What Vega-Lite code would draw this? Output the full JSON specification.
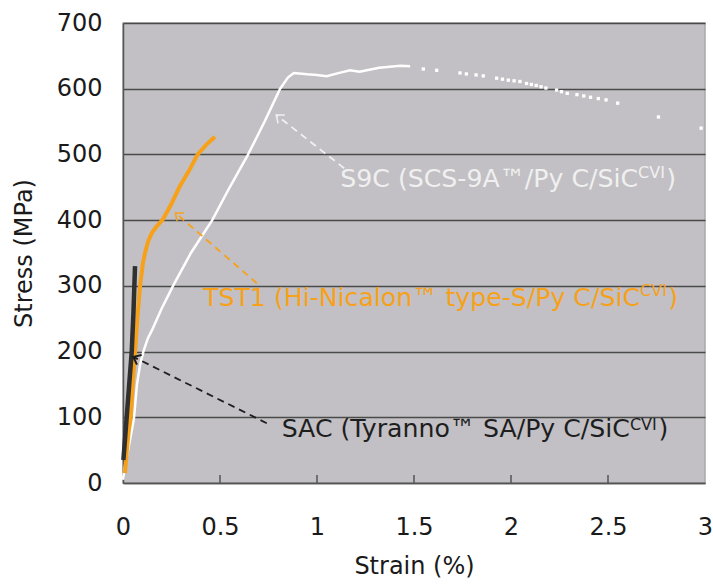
{
  "$schema": "https://vega.github.io/schema/vega-lite/v6.json",
  "width": 582,
  "height": 460,
  "autosize": {"type": "none"},
  "padding": {"left": 123, "top": 23, "right": 8, "bottom": 102},
  "background": "white",
  "config": {
    "font": "DejaVu Sans",
    "view": {"fill": "#c2c0c4", "stroke": "#a8a8a8", "strokeWidth": 1.5}
  },
  "datasets": {
    "curves": [
      {"series": "S9C", "strain": 0.0, "stress": 5},
      {"series": "S9C", "strain": 0.012, "stress": 30},
      {"series": "S9C", "strain": 0.026, "stress": 50},
      {"series": "S9C", "strain": 0.042, "stress": 75},
      {"series": "S9C", "strain": 0.057, "stress": 100},
      {"series": "S9C", "strain": 0.072, "stress": 150},
      {"series": "S9C", "strain": 0.088, "stress": 180},
      {"series": "S9C", "strain": 0.105, "stress": 200},
      {"series": "S9C", "strain": 0.128, "stress": 220},
      {"series": "S9C", "strain": 0.15, "stress": 233},
      {"series": "S9C", "strain": 0.2, "stress": 266},
      {"series": "S9C", "strain": 0.26, "stress": 301},
      {"series": "S9C", "strain": 0.35, "stress": 350},
      {"series": "S9C", "strain": 0.46, "stress": 400},
      {"series": "S9C", "strain": 0.55, "stress": 450},
      {"series": "S9C", "strain": 0.645, "stress": 500},
      {"series": "S9C", "strain": 0.73, "stress": 550},
      {"series": "S9C", "strain": 0.81, "stress": 600},
      {"series": "S9C", "strain": 0.85, "stress": 617},
      {"series": "S9C", "strain": 0.88, "stress": 624},
      {"series": "S9C", "strain": 0.95, "stress": 622},
      {"series": "S9C", "strain": 1.0, "stress": 621},
      {"series": "S9C", "strain": 1.05, "stress": 619},
      {"series": "S9C", "strain": 1.1, "stress": 623},
      {"series": "S9C", "strain": 1.17, "stress": 628},
      {"series": "S9C", "strain": 1.22, "stress": 626},
      {"series": "S9C", "strain": 1.32, "stress": 632},
      {"series": "S9C", "strain": 1.43, "stress": 635},
      {"series": "S9C", "strain": 1.48, "stress": 634},
      {"series": "TST1", "strain": 0.01, "stress": 15},
      {"series": "TST1", "strain": 0.02, "stress": 50},
      {"series": "TST1", "strain": 0.03, "stress": 80},
      {"series": "TST1", "strain": 0.04, "stress": 100},
      {"series": "TST1", "strain": 0.05, "stress": 150},
      {"series": "TST1", "strain": 0.062, "stress": 200},
      {"series": "TST1", "strain": 0.074, "stress": 250},
      {"series": "TST1", "strain": 0.088, "stress": 300},
      {"series": "TST1", "strain": 0.103, "stress": 335},
      {"series": "TST1", "strain": 0.115, "stress": 352},
      {"series": "TST1", "strain": 0.13, "stress": 368},
      {"series": "TST1", "strain": 0.15, "stress": 381},
      {"series": "TST1", "strain": 0.175, "stress": 391},
      {"series": "TST1", "strain": 0.205, "stress": 401},
      {"series": "TST1", "strain": 0.25, "stress": 425},
      {"series": "TST1", "strain": 0.29, "stress": 450},
      {"series": "TST1", "strain": 0.34, "stress": 475},
      {"series": "TST1", "strain": 0.385, "stress": 500},
      {"series": "TST1", "strain": 0.43, "stress": 515},
      {"series": "TST1", "strain": 0.474, "stress": 527},
      {"series": "SAC", "strain": 0.002, "stress": 35},
      {"series": "SAC", "strain": 0.019, "stress": 100},
      {"series": "SAC", "strain": 0.032, "stress": 150},
      {"series": "SAC", "strain": 0.045, "stress": 200},
      {"series": "SAC", "strain": 0.054, "stress": 260},
      {"series": "SAC", "strain": 0.062, "stress": 330}
    ],
    "dots": [
      {"strain": 1.548, "stress": 630},
      {"strain": 1.617, "stress": 628},
      {"strain": 1.737, "stress": 624},
      {"strain": 1.77, "stress": 622.5},
      {"strain": 1.82, "stress": 621},
      {"strain": 1.857, "stress": 619.5},
      {"strain": 1.926, "stress": 616},
      {"strain": 1.956, "stress": 614.5},
      {"strain": 1.986, "stress": 613},
      {"strain": 2.016, "stress": 612},
      {"strain": 2.046, "stress": 611},
      {"strain": 2.08, "stress": 608},
      {"strain": 2.105, "stress": 606.5},
      {"strain": 2.13, "stress": 605},
      {"strain": 2.155, "stress": 603},
      {"strain": 2.18, "stress": 601},
      {"strain": 2.235, "stress": 598},
      {"strain": 2.26, "stress": 595.5},
      {"strain": 2.29, "stress": 593},
      {"strain": 2.34, "stress": 591},
      {"strain": 2.375, "stress": 589},
      {"strain": 2.41, "stress": 587},
      {"strain": 2.45, "stress": 585},
      {"strain": 2.49, "stress": 583},
      {"strain": 2.55, "stress": 578},
      {"strain": 2.76, "stress": 557},
      {"strain": 2.98, "stress": 540}
    ],
    "ticks": [
      {"strain": 0.5, "stress": 0, "stress2": 12},
      {"strain": 1.0, "stress": 0, "stress2": 12},
      {"strain": 1.5, "stress": 0, "stress2": 12},
      {"strain": 2.0, "stress": 0, "stress2": 12},
      {"strain": 2.5, "stress": 0, "stress2": 12}
    ],
    "arrows": [
      {"series": "S9C", "strain": 1.14, "stress": 479, "strain2": 0.79, "stress2": 560},
      {"series": "TST1", "strain": 0.69, "stress": 304, "strain2": 0.27, "stress2": 411},
      {"series": "SAC", "strain": 0.741, "stress": 91, "strain2": 0.053, "stress2": 192}
    ],
    "labels": [
      {"series": "S9C", "part": "main", "text": "S9C (SCS-9A™/Py C/SiC", "strain": 2.655, "stress": 451},
      {"series": "S9C", "part": "sup", "text": "CVI", "strain": 2.655, "stress": 464},
      {"series": "S9C", "part": "close", "text": ")", "strain": 2.8, "stress": 451},
      {"series": "TST1", "part": "main", "text": "TST1 (Hi-Nicalon™ type-S/Py C/SiC", "strain": 2.665, "stress": 269},
      {"series": "TST1", "part": "sup", "text": "CVI", "strain": 2.665, "stress": 285},
      {"series": "TST1", "part": "close", "text": ")", "strain": 2.81, "stress": 269},
      {"series": "SAC", "part": "main", "text": "SAC (Tyranno™ SA/Py C/SiC", "strain": 2.613, "stress": 70},
      {"series": "SAC", "part": "sup", "text": "CVI", "strain": 2.613, "stress": 81},
      {"series": "SAC", "part": "close", "text": ")", "strain": 2.76, "stress": 70}
    ]
  },
  "layer": [
    {
      "data": {"name": "curves"},
      "transform": [{"filter": "datum.series === 'S9C'"}],
      "mark": {"type": "line", "color": "#ffffff", "strokeWidth": 2.5},
      "encoding": {
        "x": {
          "field": "strain", "type": "quantitative",
          "scale": {"domain": [0, 3], "nice": false, "zero": false},
          "axis": {
            "title": "Strain (%)",
            "values": [0, 0.5, 1, 1.5, 2, 2.5, 3],
            "format": "~g",
            "grid": false,
            "ticks": false,
            "domainColor": "#555555",
            "domainWidth": 1.5,
            "labelFontSize": 24,
            "labelColor": "#1a1a1a",
            "labelPadding": 32,
            "labelFlush": false,
            "titleFontSize": 24,
            "titleFontWeight": "normal",
            "titleColor": "#1a1a1a",
            "titlePadding": 15
          }
        },
        "y": {
          "field": "stress", "type": "quantitative",
          "scale": {"domain": [0, 700], "nice": false},
          "axis": {
            "title": "Stress (MPa)",
            "values": [0, 100, 200, 300, 400, 500, 600, 700],
            "grid": true,
            "gridColor": "#4a4a4a",
            "gridWidth": 1.5,
            "ticks": false,
            "domainColor": "#555555",
            "domainWidth": 1.5,
            "labelFontSize": 24,
            "labelColor": "#1a1a1a",
            "labelPadding": 21,
            "titleFontSize": 24,
            "titleFontWeight": "normal",
            "titleColor": "#1a1a1a",
            "titlePadding": 20
          }
        }
      }
    },
    {
      "data": {"name": "ticks"},
      "mark": {"type": "rule", "color": "#555555", "strokeWidth": 1.5},
      "encoding": {
        "x": {"field": "strain", "type": "quantitative"},
        "y": {"field": "stress", "type": "quantitative"},
        "y2": {"field": "stress2"}
      }
    },
    {
      "data": {"name": "dots"},
      "mark": {"type": "point", "shape": "square", "filled": true, "color": "#ffffff", "size": 11, "opacity": 1},
      "encoding": {
        "x": {"field": "strain", "type": "quantitative"},
        "y": {"field": "stress", "type": "quantitative"}
      }
    },
    {
      "data": {"name": "curves"},
      "transform": [{"filter": "datum.series === 'TST1'"}],
      "mark": {"type": "line", "color": "#f7a11a", "strokeWidth": 4},
      "encoding": {
        "x": {"field": "strain", "type": "quantitative"},
        "y": {"field": "stress", "type": "quantitative"}
      }
    },
    {
      "data": {"name": "curves"},
      "transform": [{"filter": "datum.series === 'SAC'"}],
      "mark": {"type": "line", "color": "#303030", "strokeWidth": 4.5},
      "encoding": {
        "x": {"field": "strain", "type": "quantitative"},
        "y": {"field": "stress", "type": "quantitative"}
      }
    },
    {
      "data": {"name": "arrows"},
      "mark": {"type": "rule", "strokeDash": [7, 5], "strokeWidth": 1.8},
      "encoding": {
        "x": {"field": "strain", "type": "quantitative"},
        "y": {"field": "stress", "type": "quantitative"},
        "x2": {"field": "strain2"},
        "y2": {"field": "stress2"},
        "color": {
          "field": "series", "type": "nominal",
          "scale": {"domain": ["S9C", "TST1", "SAC"], "range": ["#f0f0f0", "#f7a11a", "#1e1e1e"]},
          "legend": null
        }
      }
    },
    {
      "data": {"name": "arrows"},
      "transform": [{"filter": "datum.series === 'S9C'"}],
      "mark": {"type": "point", "shape": "M-0.8,1L0,0L0.8,1", "filled": false, "color": "#f0f0f0", "strokeWidth": 1.5, "size": 180, "angle": 309, "opacity": 1},
      "encoding": {
        "x": {"field": "strain2", "type": "quantitative"},
        "y": {"field": "stress2", "type": "quantitative"}
      }
    },
    {
      "data": {"name": "arrows"},
      "transform": [{"filter": "datum.series === 'TST1'"}],
      "mark": {"type": "point", "shape": "M-0.8,1L0,0L0.8,1", "filled": false, "color": "#f7a11a", "strokeWidth": 1.5, "size": 180, "angle": 310, "opacity": 1},
      "encoding": {
        "x": {"field": "strain2", "type": "quantitative"},
        "y": {"field": "stress2", "type": "quantitative"}
      }
    },
    {
      "data": {"name": "arrows"},
      "transform": [{"filter": "datum.series === 'SAC'"}],
      "mark": {"type": "point", "shape": "M-0.8,1L0,0L0.8,1", "filled": false, "color": "#1e1e1e", "strokeWidth": 2, "size": 180, "angle": 296, "opacity": 1},
      "encoding": {
        "x": {"field": "strain2", "type": "quantitative"},
        "y": {"field": "stress2", "type": "quantitative"}
      }
    },
    {
      "data": {"name": "labels"},
      "transform": [{"filter": "datum.part === 'main'"}],
      "mark": {"type": "text", "align": "right", "baseline": "alphabetic", "fontSize": 25.2},
      "encoding": {
        "x": {"field": "strain", "type": "quantitative"},
        "y": {"field": "stress", "type": "quantitative"},
        "text": {"field": "text"},
        "color": {"field": "series", "type": "nominal", "legend": null}
      }
    },
    {
      "data": {"name": "labels"},
      "transform": [{"filter": "datum.part === 'sup'"}],
      "mark": {"type": "text", "align": "left", "baseline": "alphabetic", "fontSize": 16},
      "encoding": {
        "x": {"field": "strain", "type": "quantitative"},
        "y": {"field": "stress", "type": "quantitative"},
        "text": {"field": "text"},
        "color": {"field": "series", "type": "nominal", "legend": null}
      }
    },
    {
      "data": {"name": "labels"},
      "transform": [{"filter": "datum.part === 'close'"}],
      "mark": {"type": "text", "align": "left", "baseline": "alphabetic", "fontSize": 25.2},
      "encoding": {
        "x": {"field": "strain", "type": "quantitative"},
        "y": {"field": "stress", "type": "quantitative"},
        "text": {"field": "text"},
        "color": {"field": "series", "type": "nominal", "legend": null}
      }
    }
  ]
}
